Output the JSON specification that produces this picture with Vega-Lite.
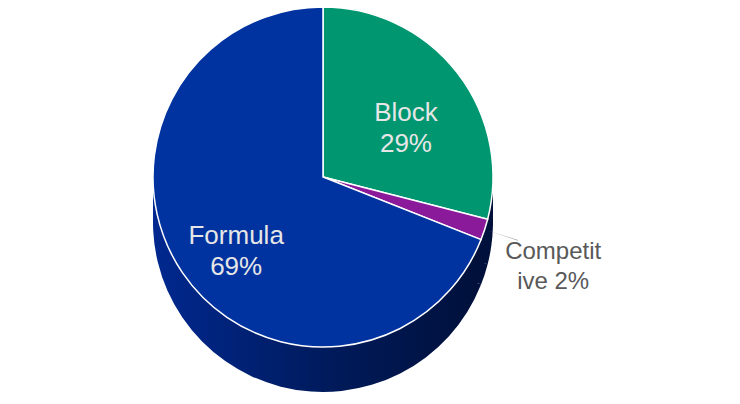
{
  "$schema": "https://vega.github.io/schema/vega-lite/v6.json",
  "width": 646,
  "height": 354,
  "padding": {"left": 0, "top": 0, "right": 94, "bottom": 50},
  "autosize": {"type": "none"},
  "background": "white",
  "config": {"view": {"stroke": null}},
  "data": {"values": [
    {"category": "Block", "value": 29, "label": "Block\n29%"},
    {"category": "Competitive", "value": 2, "label": "Competit\nive 2%"},
    {"category": "Formula", "value": 69, "label": "Formula\n69%"}
  ]},
  "encoding": {
    "theta": {"field": "value", "type": "quantitative", "stack": true}
  },
  "layer": [
    {"mark": {"type": "arc", "radius": 170, "yOffset": 45, "fill": {"gradient": "linear", "x1": 0, "x2": 1, "y1": 0, "y2": 0, "stops": [{"offset": 0, "color": "#00288f"}, {"offset": 0.55, "color": "#001a5a"}, {"offset": 1, "color": "#00103a"}]}}, "encoding": {}},
    {"mark": {"type": "arc", "radius": 170, "yOffset": 34, "fill": {"gradient": "linear", "x1": 0, "x2": 1, "y1": 0, "y2": 0, "stops": [{"offset": 0, "color": "#00288f"}, {"offset": 0.55, "color": "#001a5a"}, {"offset": 1, "color": "#00103a"}]}}, "encoding": {}},
    {"mark": {"type": "arc", "radius": 170, "yOffset": 22, "fill": {"gradient": "linear", "x1": 0, "x2": 1, "y1": 0, "y2": 0, "stops": [{"offset": 0, "color": "#00288f"}, {"offset": 0.55, "color": "#001a5a"}, {"offset": 1, "color": "#00103a"}]}}, "encoding": {}},
    {"mark": {"type": "arc", "radius": 170, "yOffset": 11, "fill": {"gradient": "linear", "x1": 0, "x2": 1, "y1": 0, "y2": 0, "stops": [{"offset": 0, "color": "#00288f"}, {"offset": 0.55, "color": "#001a5a"}, {"offset": 1, "color": "#00103a"}]}}, "encoding": {}},
    {
      "mark": {"type": "arc", "radius": 170, "stroke": "white", "strokeWidth": 1.5},
      "encoding": {
        "color": {"field": "category", "type": "nominal", "legend": null,
          "scale": {"domain": ["Block", "Competitive", "Formula"], "range": ["#009670", "#8b1a9b", "#0033a0"]}}
      }
    },
    {
      "mark": {"type": "arc", "radius": 205, "radius2": 172, "padAngle": 0.0935, "fill": "#a6a6a6"},
      "encoding": {
        "opacity": {"condition": {"test": "datum.category === 'Competitive'", "value": 1}, "value": 0}
      }
    },
    {
      "mark": {"type": "text", "radius": 105, "font": "Liberation Sans", "fontSize": 26, "lineHeight": 31, "lineBreak": "\n", "align": "center", "baseline": "middle", "color": "#e6e6e6"},
      "encoding": {
        "text": {"field": "label"},
        "opacity": {"condition": {"test": "datum.category === 'Competitive'", "value": 0}, "value": 1}
      }
    },
    {
      "mark": {"type": "text", "radius": 242, "font": "Liberation Sans", "fontSize": 24, "lineHeight": 30, "lineBreak": "\n", "align": "center", "baseline": "middle", "color": "#595959"},
      "encoding": {
        "text": {"field": "label"},
        "opacity": {"condition": {"test": "datum.category === 'Competitive'", "value": 1}, "value": 0}
      }
    }
  ]
}
